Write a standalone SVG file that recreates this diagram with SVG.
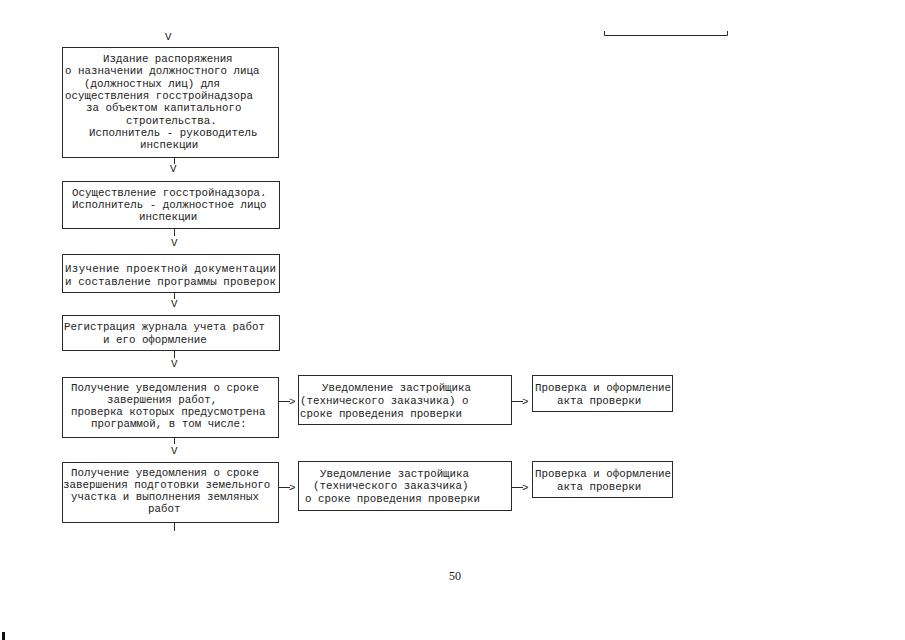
<svg xmlns="http://www.w3.org/2000/svg" width="905" height="640" viewBox="0 0 905 640">
<style>
.box{fill:none;stroke:#2a2a2a;stroke-width:1}
.t{font-family:"Liberation Mono","DejaVu Sans Mono",monospace;font-size:10.8px;fill:#222}
.c{stroke:#2a2a2a;stroke-width:1;fill:none}
.pg{font-family:"Liberation Serif",serif;font-size:12px;fill:#1a1a1a}
</style>
<rect width="905" height="640" fill="#ffffff"/>
<g id="n1">
<rect class="box" x="62.5" y="47.5" width="216" height="110"/>
<text class="t" x="103" y="62">Издание распоряжения</text>
<text class="t" x="65" y="74">о назначении должностного лица</text>
<text class="t" x="84" y="87">(должностных лиц) для</text>
<text class="t" x="65" y="99">осуществления госстройнадзора</text>
<text class="t" x="86" y="111">за объектом капитального</text>
<text class="t" x="126" y="124">строительства.</text>
<text class="t" x="89" y="136">Исполнитель - руководитель</text>
<text class="t" x="140" y="148">инспекции</text>
</g>
<g id="n2">
<rect class="box" x="62.5" y="181.5" width="217" height="47"/>
<text class="t" x="72" y="196">Осуществление госстройнадзора.</text>
<text class="t" x="72" y="208">Исполнитель - должностное лицо</text>
<text class="t" x="139" y="220">инспекции</text>
</g>
<g id="n3">
<rect class="box" x="62.5" y="254.5" width="217" height="38"/>
<text class="t" x="65" y="272" textLength="211">Изучение проектной документации</text>
<text class="t" x="65" y="285" textLength="211">и составление программы проверок</text>
</g>
<g id="n4">
<rect class="box" x="62.5" y="315.5" width="217" height="35"/>
<text class="t" x="64" y="330">Регистрация журнала учета работ</text>
<text class="t" x="103" y="343">и его оформление</text>
</g>
<g id="n5">
<rect class="box" x="62.5" y="377.5" width="216" height="60"/>
<text class="t" x="71" y="391">Получение уведомления о сроке</text>
<text class="t" x="107" y="403">завершения работ,</text>
<text class="t" x="71" y="415">проверка которых предусмотрена</text>
<text class="t" x="91" y="427">программой, в том числе:</text>
</g>
<g id="n6">
<rect class="box" x="298.5" y="375.5" width="213" height="49"/>
<text class="t" x="322" y="391">Уведомление застройщика</text>
<text class="t" x="300" y="404">(технического заказчика) о</text>
<text class="t" x="300" y="417">сроке проведения проверки</text>
</g>
<g id="n7">
<rect class="box" x="532.5" y="375.5" width="140" height="36"/>
<text class="t" x="535" y="391">Проверка и оформление</text>
<text class="t" x="557" y="404">акта проверки</text>
</g>
<g id="n8">
<rect class="box" x="62.5" y="462.5" width="216" height="60"/>
<text class="t" x="71" y="476">Получение уведомления о сроке</text>
<text class="t" x="63" y="488">завершения подготовки земельного</text>
<text class="t" x="71" y="500">участка и выполнения земляных</text>
<text class="t" x="148" y="512">работ</text>
</g>
<g id="n9">
<rect class="box" x="298.5" y="461.5" width="213" height="49"/>
<text class="t" x="320" y="477">Уведомление застройщика</text>
<text class="t" x="313" y="489">(технического заказчика)</text>
<text class="t" x="305" y="502">о сроке  проведения проверки</text>
</g>
<g id="n10">
<rect class="box" x="532.5" y="461.5" width="140" height="36"/>
<text class="t" x="535" y="477">Проверка и оформление</text>
<text class="t" x="557" y="490">акта проверки</text>
</g>
<g id="connectors">
<text class="t" x="165" y="40">V</text>
<line class="c" x1="174.5" y1="158" x2="174.5" y2="164"/>
<text class="t" x="170" y="172">V</text>
<line class="c" x1="174.5" y1="229" x2="174.5" y2="236"/>
<text class="t" x="171" y="246">V</text>
<line class="c" x1="174.5" y1="293" x2="174.5" y2="299"/>
<text class="t" x="171" y="307">V</text>
<line class="c" x1="174.5" y1="351" x2="174.5" y2="358"/>
<text class="t" x="171" y="367">V</text>
<line class="c" x1="174.5" y1="438" x2="174.5" y2="444"/>
<text class="t" x="171" y="454">V</text>
<line class="c" x1="174.5" y1="523" x2="174.5" y2="531"/>
<line class="c" x1="279" y1="401.5" x2="290" y2="401.5"/>
<text class="t" x="289" y="405">&gt;</text>
<line class="c" x1="512" y1="401.5" x2="523" y2="401.5"/>
<text class="t" x="522" y="405">&gt;</text>
<line class="c" x1="279" y1="487.5" x2="290" y2="487.5"/>
<text class="t" x="289" y="491">&gt;</text>
<line class="c" x1="512" y1="487.5" x2="523" y2="487.5"/>
<text class="t" x="522" y="491">&gt;</text>
</g>
<path class="c" d="M604.5 31 V35.5 H727.5 V31"/>
<text class="pg" x="449" y="580">50</text>
<rect x="2" y="632" width="3" height="8" fill="#111"/>
</svg>
